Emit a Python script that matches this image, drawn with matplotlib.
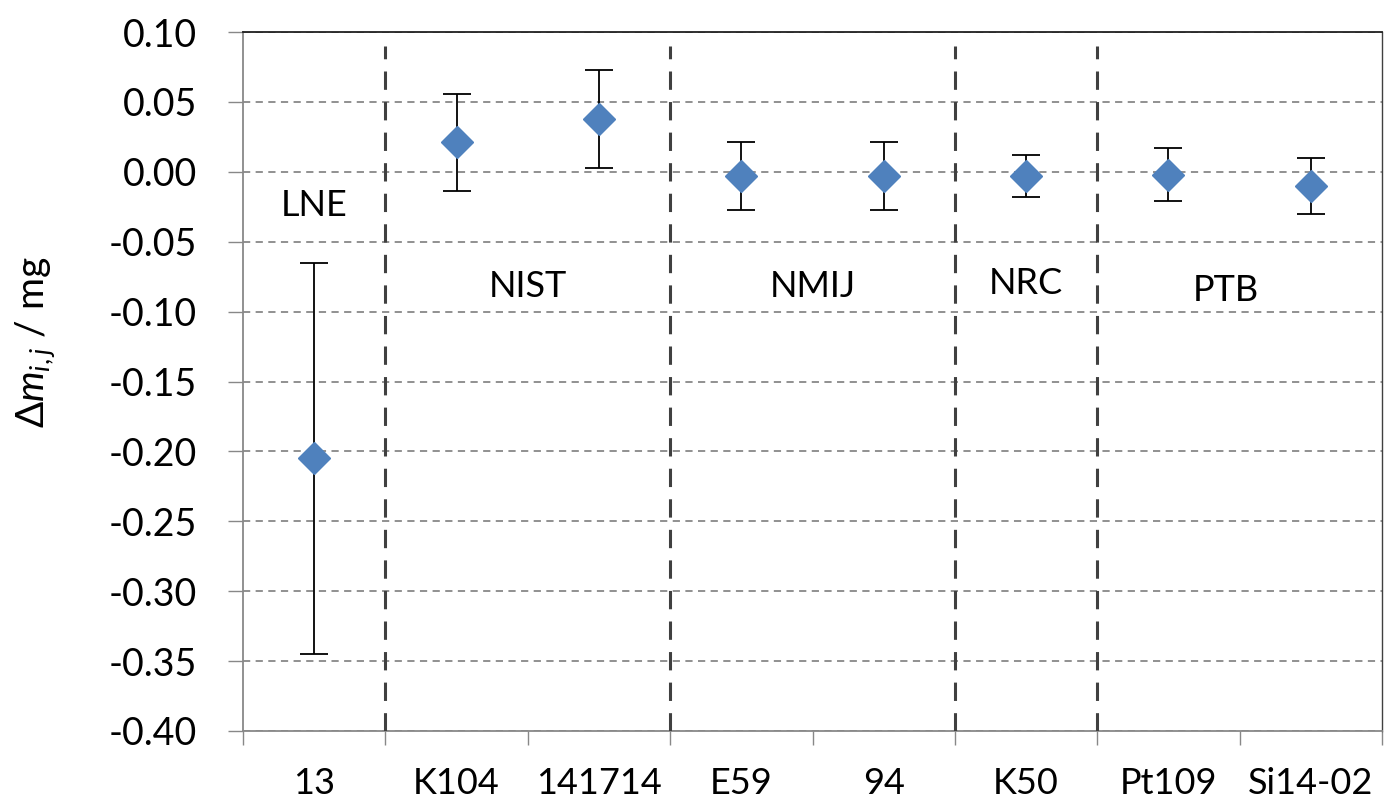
import matplotlib
matplotlib.use("Agg")
import matplotlib.pyplot as plt
import numpy as np

plt.rcParams['font.family'] = ['Lato', 'DejaVu Sans']
plt.rcParams['mathtext.fontset'] = 'custom'
plt.rcParams['mathtext.rm'] = 'Lato'
plt.rcParams['mathtext.it'] = 'Lato:italic'

# data
echantillons = ['13', 'K104', '141714', 'E59', '94', 'K50', 'Pt109', 'Si14-02']
delta_m = [-0.205, 0.021, 0.038, -0.003, -0.003, -0.003, -0.002, -0.010]
incertitude = [0.140, 0.035, 0.035, 0.024, 0.024, 0.015, 0.019, 0.020]

# laboratories: name, x position, y position of the label
labos = ['LNE', 'NIST', 'NMIJ', 'NRC', 'PTB']
labos_x = [0.0, 1.5, 3.5, 5.0, 6.4]
labos_y = [-0.024, -0.082, -0.082, -0.080, -0.085]
separations = [0.5, 2.5, 4.5, 5.5]
graduations = [-0.40, -0.35, -0.30, -0.25, -0.20, -0.15, -0.10, -0.05, 0.00, 0.05, 0.10]

fig = plt.figure(figsize=(13.84, 8.01), dpi=100)
ax = fig.add_axes([0.1756, 0.0874, 0.8230, 0.8726])

x = np.arange(len(echantillons))
ax.errorbar(x, delta_m, yerr=incertitude, fmt='D', color='#4F81BD',
            markersize=16, ecolor='black', elinewidth=1.3, capsize=10,
            capthick=1.3, zorder=5)

for xs in separations:
    ax.plot([xs, xs], [-0.40, 0.09], color='#404040', linestyle=(0, (6, 4)),
            linewidth=2.2, zorder=3)

for nom, lx, ly in zip(labos, labos_x, labos_y):
    ax.text(lx, ly, nom, fontsize=26, ha='center', va='center')

ax.set_xlim(-0.5, len(echantillons) - 0.5)
ax.set_ylim(-0.40, 0.10)
ax.set_yticks(graduations)
ax.set_yticklabels(['%.2f' % v for v in graduations])
ax.set_xticks(x)
ax.set_xticklabels(echantillons)
ax.set_xticks(np.arange(-0.5, len(echantillons)), minor=True)

ax.tick_params(axis='y', labelsize=27, length=11, width=1, color='#888888',
               pad=22, direction='out')
ax.tick_params(axis='x', which='major', labelsize=26, length=0, pad=26)
ax.tick_params(axis='x', which='minor', length=10, width=1, color='#888888',
               direction='out')

ax.grid(axis='y', color='#888888', linestyle=(0, (4, 3)), linewidth=1.3)
ax.set_axisbelow(True)

for cote in ['left', 'bottom']:
    ax.spines[cote].set_color('#888888')
    ax.spines[cote].set_linewidth(1.3)
ax.spines['top'].set_color('#202020')
ax.spines['top'].set_linewidth(1.3)
ax.spines['right'].set_color('#404040')
ax.spines['right'].set_linewidth(1.0)

# axis title, placed like in the original (a bit above the middle)
fig.text(36 / 1384, 1 - 342 / 801, r'Δ$m_{i,j}$ / mg', fontsize=28,
         rotation=90, ha='center', va='center')

fig.savefig('out.png', dpi=100)
